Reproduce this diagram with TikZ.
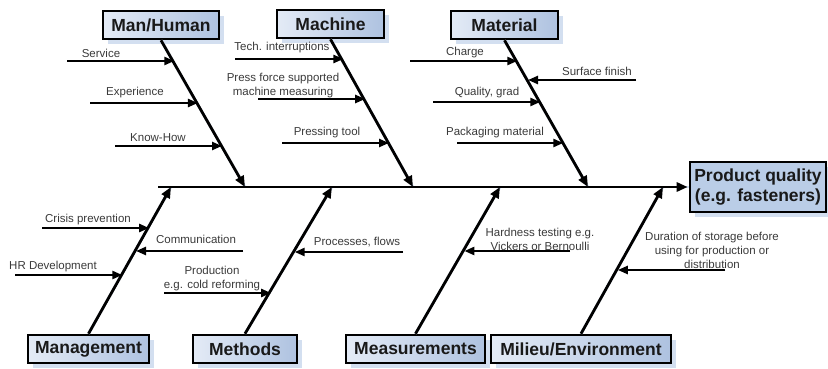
\documentclass[tikz,border=0pt]{standalone}
\usepackage{fontspec}
\setmainfont{Liberation Sans}
\usetikzlibrary{arrows.meta,shadows}

\definecolor{boxlight}{HTML}{E4EBF6}
\definecolor{boxdark}{HTML}{AEC2E0}
\definecolor{headfill}{HTML}{BACDE7}
\definecolor{shadowblue}{HTML}{D3DFF0}
\definecolor{labelgray}{HTML}{3A3A3A}

\begin{document}
\begin{tikzpicture}[x=1pt,y=-1pt,
  catbox/.style={draw=black, line width=2.6pt, left color=boxlight, right color=boxdark,
    minimum height=28pt, inner sep=0pt, font=\fontsize{17.5}{20}\selectfont\bfseries,
    text=black!90,
    drop shadow={shadow xshift=5pt, shadow yshift=-5pt, fill=shadowblue, opacity=1}},
  headbox/.style={catbox, fill=headfill, left color=headfill, right color=headfill},
  causelabel/.style={font=\fontsize{11.5}{14}\selectfont, text=labelgray, align=center, inner sep=0pt},
  bone/.style={line width=2.8pt, -{Triangle[length=11pt,width=9pt]}},
  bonesh/.style={line width=2.8pt, draw=shadowblue, shift={(5,5)}},
  cause/.style={line width=2.4pt, -{Triangle[length=10pt,width=8pt]}}
]
\useasboundingbox (0,0) rectangle (828,369);

% ---------- category boxes ----------
\node[catbox, minimum width=116pt] (mh) at (161,25)   {Man/Human};
\node[catbox, minimum width=107pt] (ma) at (330.5,24) {Machine};
\node[catbox, minimum width=107pt] (mt) at (504.5,25) {Material};
\node[catbox, minimum width=121pt] (mg) at (88.5,349) {Management};
\node[catbox, minimum width=104pt] (me) at (245,349)  {Methods};
\node[catbox, minimum width=139pt] (ms) at (415.5,349){Measurements};
\node[catbox, minimum width=180pt] (mi) at (581,349)  {Milieu/Environment};
\node[headbox, minimum width=136pt, minimum height=50pt, align=center] (head) at (758,187)
  {Product quality\\(e.g. fasteners)};

% ---------- spine and main bones ----------
\coordinate (tail) at (158,187);
\coordinate (jmh) at (245,187);
\coordinate (jma) at (413,187);
\coordinate (jmt) at (588,187);
\coordinate (jmg) at (171,187);
\coordinate (jme) at (332,187);
\coordinate (jms) at (500,187);
\coordinate (jmi) at (663,187);

% faint shadows behind spine and bones
\draw[bonesh] (tail) -- (head.west);
\foreach \b/\j in {mh/jmh, ma/jma, mt/jmt}
  \draw[bonesh] (\b.south) -- (\j);
\foreach \b/\j in {mg/jmg, me/jme, ms/jms, mi/jmi}
  \draw[bonesh] (\b.north) -- (\j);

\draw[bone, shorten >=1pt] (tail) -- (head.west);
\foreach \b/\j in {mh/jmh, ma/jma, mt/jmt}
  \draw[bone] (\b.south) -- (\j);
\foreach \b/\j in {mg/jmg, me/jme, ms/jms, mi/jmi}
  \draw[bone] (\b.north) -- (\j);

% ---------- causes: Man/Human ----------
\coordinate (s1) at (67,61);   \coordinate (t1) at (174.3,61);
\coordinate (s2) at (90,103);  \coordinate (t2) at (197.9,103);
\coordinate (s3) at (115,146); \coordinate (t3) at (222,146);
\draw[cause] (s1) -- (t1);
\draw[cause] (s2) -- (t2);
\draw[cause] (s3) -- (t3);
\node[causelabel] (l1) at (101,53)  {Service};
\node[causelabel] (l2) at (135,93)  {Experience};
\node[causelabel] (l3) at (158,138) {Know-How};

% ---------- causes: Machine ----------
\coordinate (s4) at (235,59);  \coordinate (t4) at (343.4,59);
\coordinate (s5) at (258,99);  \coordinate (t5) at (365.2,99);
\coordinate (s6) at (282,143); \coordinate (t6) at (389,143);
\draw[cause] (s4) -- (t4);
\draw[cause] (s5) -- (t5);
\draw[cause] (s6) -- (t6);
\node[causelabel] (l4) at (282,48)  {Tech. interruptions};
\node[causelabel] (l5) at (283,85.5){Press force supported\\machine measuring};
\node[causelabel] (l6) at (327,133) {Pressing tool};

% ---------- causes: Material ----------
\coordinate (s7) at (410,61);   \coordinate (t7) at (517.3,61);
\coordinate (s8) at (636,80);   \coordinate (t8) at (528,80);
\coordinate (s9) at (433,102);  \coordinate (t9) at (540.3,102);
\coordinate (s10) at (457,143); \coordinate (t10) at (563.3,143);
\draw[cause] (s7) -- (t7);
\draw[cause] (s8) -- (t8);
\draw[cause] (s9) -- (t9);
\draw[cause] (s10) -- (t10);
\node[causelabel] (l7) at (465,53)  {Charge};
\node[causelabel] (l8) at (597,71)  {Surface finish};
\node[causelabel] (l9) at (487,93)  {Quality, grad};
\node[causelabel] (l10) at (495,133){Packaging material};

% ---------- causes: Management ----------
\coordinate (s11) at (42,228);  \coordinate (t11) at (149.1,228);
\coordinate (s12) at (243,251); \coordinate (t12) at (136,251);
\coordinate (s13) at (15,275);  \coordinate (t13) at (122.3,275);
\draw[cause] (s11) -- (t11);
\draw[cause] (s12) -- (t12);
\draw[cause] (s13) -- (t13);
\node[causelabel] (l11) at (88,220)  {Crisis prevention};
\node[causelabel] (l12) at (196,239) {Communication};
\node[causelabel] (l13) at (53,267)  {HR Development};

% ---------- causes: Methods ----------
\coordinate (s14) at (164,293); \coordinate (t14) at (271.1,293);
\coordinate (s15) at (403,252); \coordinate (t15) at (294.7,252);
\draw[cause] (s14) -- (t14);
\draw[cause] (s15) -- (t15);
\node[causelabel] (l14) at (212,278.5){Production\\e.g. cold reforming};
\node[causelabel] (l15) at (357,242)  {Processes, flows};

% ---------- causes: Measurements ----------
\coordinate (s16) at (570,251); \coordinate (t16) at (464.4,251);
\draw[cause] (s16) -- (t16);
\node[causelabel] (l16) at (540,239.5){Hardness testing e.g.\\Vickers or Bernoulli};

% ---------- causes: Milieu/Environment ----------
\coordinate (s17) at (725,270); \coordinate (t17) at (617.8,270);
\draw[cause] (s17) -- (t17);
\node[causelabel] (l17) at (712,250.5){Duration of storage before\\using for production or\\distribution};
\end{tikzpicture}
\end{document}
